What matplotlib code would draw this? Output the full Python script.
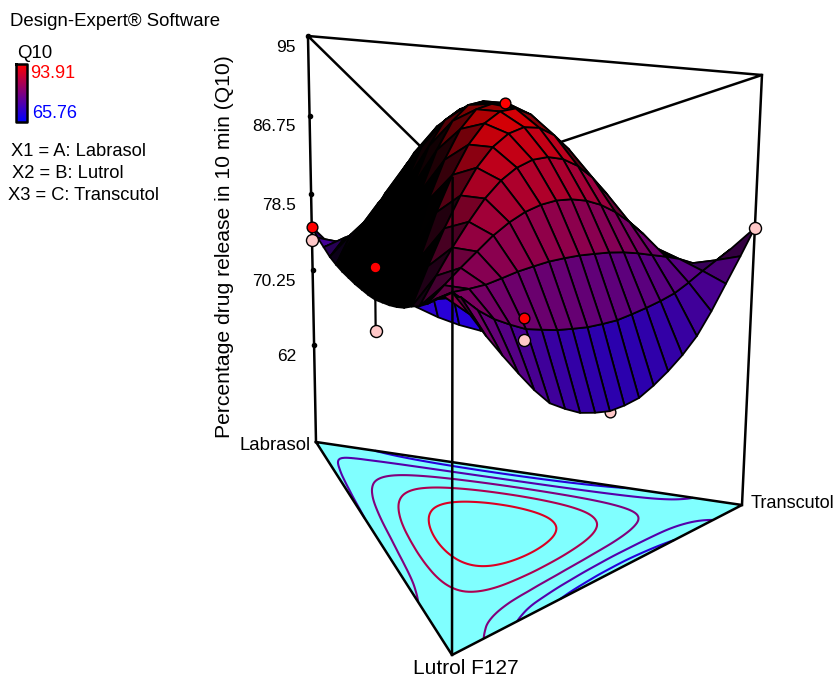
import numpy as np
import matplotlib
matplotlib.use("Agg")
import matplotlib.pyplot as plt
from matplotlib.collections import PolyCollection
from matplotlib.colors import LinearSegmentedColormap, Normalize
from matplotlib.tri import Triangulation, UniformTriRefiner

plt.rcParams["font.family"] = ["Liberation Sans", "DejaVu Sans"]

# Q10, on a 20 step simplex lattice.
# row = Lutrol share in 5% steps, position in row = Labrasol share in 5% steps
q_rows = [
    [80.0, 77.57, 75.36, 73.39, 71.64, 70.13, 68.84, 67.79, 66.96, 66.37, 66.0,
     65.87, 65.96, 66.29, 66.84, 67.63, 68.64, 69.89, 71.36, 73.07, 75.0],
    [77.7, 77.04, 76.47, 75.93, 75.55, 75.22, 74.92, 74.66, 74.44, 74.26, 74.12,
     74.02, 73.96, 73.94, 73.96, 74.02, 74.11, 74.25, 74.43, 74.6],
    [75.5, 76.51, 77.44, 78.27, 79.01, 79.66, 80.16, 80.50, 80.70, 80.75, 80.64,
     80.38, 79.97, 79.42, 78.71, 77.85, 76.83, 75.67, 74.4],
    [73.3, 75.91, 78.23, 80.26, 82.0, 83.45, 84.55, 85.31, 85.73, 85.80, 85.55,
     84.94, 84.0, 82.72, 81.09, 79.12, 76.81, 74.2],
    [71.4, 75.42, 78.95, 81.98, 84.53, 86.58, 88.10, 89.09, 89.55, 89.47, 88.86,
     87.72, 86.05, 83.84, 81.13, 77.92, 74.2],
    [70.1, 75.22, 79.67, 83.47, 86.60, 89.06, 90.81, 91.83, 92.13, 91.71, 90.56,
     88.70, 86.10, 82.84, 78.9, 74.3],
    [69.1, 75.12, 80.32, 84.68, 88.2, 90.89, 92.66, 93.53, 93.51, 92.55, 90.66,
     87.87, 84.25, 79.8, 74.5],
    [68.3, 75.08, 80.85, 85.6, 89.34, 92.07, 93.69, 93.91, 93.60, 91.93, 89.15,
     85.35, 80.54, 74.7],
    [67.7, 75.09, 81.27, 86.25, 90.02, 92.6, 93.87, 93.86, 92.54, 89.94, 86.17,
     81.17, 75.0],
    [67.6, 75.32, 81.67, 86.65, 90.25, 92.47, 93.21, 92.47, 90.24, 86.65, 81.65,
     75.3],
    [67.7, 75.61, 81.96, 86.76, 90.0, 91.69, 91.7, 90.04, 86.84, 82.04, 75.7],
    [68.2, 76.06, 82.2, 86.61, 89.3, 90.26, 89.35, 86.75, 82.37, 76.3],
    [68.85, 76.54, 82.3, 86.17, 88.13, 88.17, 86.34, 82.55, 76.9],
    [69.9, 77.18, 82.37, 85.48, 86.49, 85.62, 82.62, 77.6],
    [71.1, 77.84, 82.31, 84.53, 84.64, 82.62, 78.4],
    [73.0, 78.86, 82.28, 83.57, 82.55, 79.4],
    [75.2, 79.98, 82.47, 82.53, 80.3],
    [77.5, 81.4, 82.75, 81.4],
    [79.9, 83.16, 82.7],
    [82.5, 83.8],
    [85.0],
]

# design points: Labrasol, Lutrol, Transcutol shares and Q10
red_a = [1.0, 0.5, 0.5, 0.3333]
red_b = [0.0, 0.5, 0.0, 0.3333]
red_c = [0.0, 0.0, 0.5, 0.3333]
red_q = [75.0, 78.9, 67.9, 93.91]
pale_a = [1.0, 0.5, 0.5, 0.0]
pale_b = [0.0, 0.5, 0.0, 0.0]
pale_c = [0.0, 0.0, 0.5, 1.0]
pale_q = [73.6, 72.6, 65.6, 80.0]
under_a = [0.0]
under_b = [0.5]
under_c = [0.5]
under_q = [67.6]

z_ticks = [95, 86.75, 78.5, 70.25, 62]
z_tick_labels = ["95", "86.75", "78.5", "70.25", "62"]
contour_levels = [70, 75, 80, 85, 90]
q_low, q_high = 65.76, 93.91

# view: base corners in pixels, height of the top corners, vanishing point of verticals
Z_FLOOR, Z_TOP = 51.0, 95.0
VP = np.array([444.0, 6921.0, 1.0])
CORNERS = {"A": (316.0, 442.0, 36.0), "B": (452.0, 655.0, 178.0), "C": (742.0, 505.0, 75.0)}
hom = {}
for k, (px, py, top) in CORNERS.items():
    w = (VP[1] - top) / (py - top)
    hom[k] = w * np.array([px, py, 1.0])


def project(a, b, c, z):
    t = (np.asarray(z, float) - Z_FLOOR) / (Z_TOP - Z_FLOOR)
    a, b, c = np.asarray(a, float), np.asarray(b, float), np.asarray(c, float)
    h = [a * hom["A"][n] + b * hom["B"][n] + c * hom["C"][n] - t * VP[n] for n in range(3)]
    return h[0] / h[2], h[1] / h[2], h[2]


def signed_area(x, y):
    return 0.5 * (np.dot(x, np.roll(y, 1)) - np.dot(y, np.roll(x, 1)))


N = len(q_rows) - 1
cmap = LinearSegmentedColormap.from_list("q10", ["#0000ff", "#ff0000"])
norm = Normalize(q_low, q_high)

# lattice cells
cells = []
for j in range(N):
    for i in range(N - j):
        if i + j + 2 <= N:
            cells.append([(i, j), (i + 1, j), (i + 1, j + 1), (i, j + 1)])
        else:
            cells.append([(i, j), (i + 1, j), (i, j + 1)])

verts, colors, depth = [], [], []
for cell in cells:
    ij = np.array(cell)
    a, b = ij[:, 0] / N, ij[:, 1] / N
    c = 1 - a - b
    q = np.array([q_rows[m][n] for n, m in cell])
    x, y, w = project(a, b, c, q)
    x0, y0, _ = project(a, b, c, np.full_like(q, Z_FLOOR))
    # facets seen at a grazing angle go dark, like the packed mesh in the original
    ratio = signed_area(x, y) / signed_area(x0, y0)
    shade = np.clip(abs(ratio) * 2.2 - 0.9, 0.0, 1.0)
    # same for slopes turned to the left, away from the light
    slope = np.linalg.lstsq(np.column_stack([x0, y0, np.ones(len(x0))]), q, rcond=None)[0][0]
    shade *= np.clip(1 - 6 * slope, 0.0, 1.0)
    shade *= 0.85
    if ratio < 0 and q.mean() < 74 and a.mean() < 0.75:
        shade = 1.0  # low back side stays bright blue
    rgb = np.array(cmap(norm(q.mean()))[:3]) * shade
    verts.append(np.column_stack([x, y]))
    colors.append(rgb)
    depth.append(w.mean())
order = np.argsort(depth)[::-1]

fig = plt.figure(figsize=(8.35, 6.78), dpi=100)
ax = fig.add_axes([0, 0, 1, 1])

# base triangle and contours
bx, by, _ = project(np.array([1, 0, 0]), np.array([0, 1, 0]), np.array([0, 0, 1]), np.full(3, Z_FLOOR))
ax.fill(bx, by, facecolor="#80ffff", edgecolor="none", zorder=1)
lat_i, lat_j, lat_q = [], [], []
for j, row in enumerate(q_rows):
    for i, val in enumerate(row):
        lat_i.append(i)
        lat_j.append(j)
        lat_q.append(val)
lat_i, lat_j = np.array(lat_i), np.array(lat_j)
lx, ly, _ = project(lat_i / N, lat_j / N, 1 - (lat_i + lat_j) / N, np.full(len(lat_i), Z_FLOOR))
tris = []
index = {(i, j): n for n, (i, j) in enumerate(zip(lat_i, lat_j))}
for (i, j) in index:
    if (i + 1, j) in index and (i, j + 1) in index:
        tris.append([index[(i, j)], index[(i + 1, j)], index[(i, j + 1)]])
    if (i + 1, j) in index and (i + 1, j - 1) in index:
        tris.append([index[(i, j)], index[(i + 1, j - 1)], index[(i + 1, j)]])
fine_tri, fine_q = UniformTriRefiner(Triangulation(lx, ly, tris)).refine_field(np.array(lat_q), subdiv=3)
ax.tricontour(fine_tri, fine_q, levels=contour_levels,
              colors=[cmap(norm(v)) for v in contour_levels], linewidths=1.5, zorder=2)
ax.plot(np.r_[bx, bx[0]], np.r_[by, by[0]], color="k", lw=1.8, zorder=3)

# frame
tx, ty, _ = project(np.array([1, 0, 0]), np.array([0, 1, 0]), np.array([0, 0, 1]), np.full(3, Z_TOP))
ax.plot(np.r_[tx, tx[0]], np.r_[ty, ty[0]], color="k", lw=1.8, zorder=3)
for n in (0, 2):
    ax.plot([bx[n], tx[n]], [by[n], ty[n]], color="k", lw=1.8, zorder=3)

# pale point hidden under the surface
ux, uy, _ = project(under_a, under_b, under_c, under_q)
ax.scatter(ux, uy, s=60, c="#ffc8c8", edgecolors="k", linewidths=1.0, zorder=4)

ax.add_collection(PolyCollection([verts[n] for n in order], facecolors=[colors[n] for n in order],
                                 edgecolors="k", linewidths=1.3, zorder=5))
ax.plot([bx[1], tx[1]], [by[1], ty[1]], color="k", lw=1.8, zorder=6)

# stems and design points
for aa, bb, cc, qq in zip(pale_a[:3], pale_b[:3], pale_c[:3], pale_q[:3]):
    q_surf = q_rows[int(round(bb * N))][int(round(aa * N))]
    sx, sy, _ = project([aa, aa], [bb, bb], [cc, cc], [qq, q_surf])
    ax.plot(sx, sy, color="k", lw=1.6, zorder=7)
px_, py_, _ = project(pale_a, pale_b, pale_c, pale_q)
ax.scatter(px_, py_, s=75, c="#ffc8c8", edgecolors="k", linewidths=1.0, zorder=8)
rx, ry, _ = project(red_a, red_b, red_c, red_q)
ax.scatter(rx, ry, s=60, c="#ff0000", edgecolors="k", linewidths=1.0, zorder=9)

# height ticks on the Labrasol edge
zx, zy, _ = project(np.ones(5), np.zeros(5), np.zeros(5), z_ticks)
ax.scatter(zx, zy, s=9, c="k", zorder=4)
for yy, lab in zip(zy, z_tick_labels):
    ax.text(296, yy + 11, lab, ha="right", va="center", fontsize=12.5)
ax.text(224, 247, "Percentage drug release in 10 min (Q10)", rotation=90,
        ha="center", va="center", fontsize=15.2)

ax.text(311, 446, "Labrasol", ha="right", va="center", fontsize=13.4)
ax.text(751, 504, "Transcutol", ha="left", va="center", fontsize=13.1)
ax.text(466, 669, "Lutrol F127", ha="center", va="center", fontsize=15)

# side legend
ax.text(10, 21, "Design-Expert\u00ae Software", ha="left", va="center", fontsize=13.4)
ax.text(17, 53, "Q10", ha="left", va="center", fontsize=13.4)
ax.imshow(np.linspace(1, 0, 64)[:, None], extent=(16, 27, 122, 64), cmap=cmap, aspect="auto", zorder=2)
ax.plot([16, 27, 27, 16, 16], [64, 64, 122, 122, 64], color="k", lw=1.8, zorder=3)
ax.text(30, 74, "93.91", color="#ff0000", ha="left", va="center", fontsize=13)
ax.text(32, 113, "65.76", color="#0000ff", ha="left", va="center", fontsize=13)
ax.text(11, 152, "X1 = A: Labrasol", ha="left", va="center", fontsize=13.2)
ax.text(12, 174, "X2 = B: Lutrol", ha="left", va="center", fontsize=13.2)
ax.text(8, 195, "X3 = C: Transcutol", ha="left", va="center", fontsize=13.2)

ax.set_xlim(0, 835)
ax.set_ylim(678, 0)
ax.axis("off")
fig.savefig("out.png", dpi=100)
plt.close(fig)
